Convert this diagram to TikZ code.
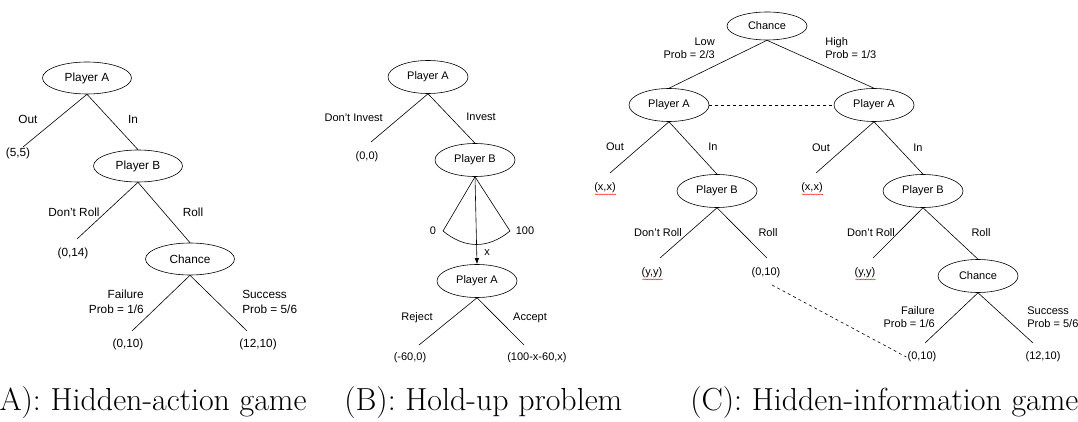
\documentclass[tikz,border=0pt]{standalone}
\usepackage{fontspec}
\newfontfamily\diagfont{Liberation Sans}
\usetikzlibrary{arrows.meta, shapes.geometric, decorations.pathmorphing}

\begin{document}
\begin{tikzpicture}[x=1pt, y=-1pt, line width=0.6pt, >={Latex[length=6pt, width=4.5pt]},
	every node/.style={font=\diagfont\fontsize{11}{13}\selectfont},
	player/.style={draw, ellipse, minimum width=80pt, minimum height=33pt, inner sep=0pt},
	move/.style={inner sep=0pt},
	payoff/.style={inner sep=1pt},
	squig/.style={red, line width=0.4pt, decorate, decoration={snake, amplitude=0.5pt, segment length=2.5pt}},
	caption/.style={font=\rmfamily\fontsize{31.9}{36}\selectfont, anchor=base west, inner sep=0pt}]
				\useasboundingbox (0,0) rectangle (1078,422);

				% (A) hidden action
				\begin{scope}[every node/.append style={font=\diagfont\fontsize{11.8}{15}\selectfont},
					player/.append style={minimum width=89pt, minimum height=32pt}]
				\node[player] (aA) at (87,78) {Player A};
				\node[player] (aB) at (138,166) {Player B};
				\node[player] (aC) at (190,259) {Chance};

				\coordinate (aOut) at (23,147);
				\coordinate (aNo) at (77,239);
				\coordinate (aFail) at (132,331);
				\coordinate (aSucc) at (247,331);

				\draw (aA.south) -- (aOut);
				\draw (aA.south) -- (aB.north);
				\draw (aB.south) -- (aNo);
				\draw (aB.south) -- (aC.north);
				\draw (aC.south) -- (aFail);
				\draw (aC.south) -- (aSucc);

				\node[move] (aOutL) at (28,119) {Out};
				\node[move] (aInL) at (133,119) {In};
				\node[move] (aNoL) at (74,212) {Don’t Roll};
				\node[move] (aRollL) at (193,212) {Roll};
				\node[move, anchor=east, align=right] (aFailL) at (144,302) {Failure\\Prob = 1/6};
				\node[move, anchor=west, align=left] (aSuccL) at (242,302) {Success\\Prob = 5/6};

				\node[payoff] (aP1) at (18,153) {(5,5)};
				\node[payoff] (aP2) at (73,253) {(0,14)};
				\node[payoff] (aP3) at (128,344) {(0,10)};
				\node[payoff] (aP4) at (258,344) {(12,10)};
				\end{scope}

				% (B) hold-up
				\node[player] (bA) at (428,77) {Player A};
				\node[player] (bB) at (475,160) {Player B};
				\node[player] (bA2) at (477,281) {Player A};

				\coordinate (bNo) at (371,142);
				\coordinate (bLo) at (443,231);
				\coordinate (bHi) at (510,231);
				\coordinate (bRej) at (419,345);
				\coordinate (bAcc) at (524,345);

				\draw (bA.south) -- (bNo);
				\draw (bA.south) -- (bB.north);
				\draw (bB.south) -- (bLo);
				\draw (bB.south) -- (bHi);
				\draw (bLo) .. controls (465,249) and (488,249) .. (bHi);
				\draw[->] (bB.south) -- (bA2.north);
				\draw (bA2.south) -- (bRej);
				\draw (bA2.south) -- (bAcc);

				\node[move, anchor=east] (bNoL) at (383,118) {Don’t Invest};
				\node[move] (bInL) at (481,117) {Invest};
				\node[move] (bLoL) at (433,231) {0};
				\node[move] (bHiL) at (525,231) {100};
				\node[move] (bxL) at (487,253) {x};
				\node[move] (bRejL) at (417,318) {Reject};
				\node[move] (bAccL) at (530,318) {Accept};

				\node[payoff] (bP1) at (367,157) {(0,0)};
				\node[payoff] (bP2) at (410,358) {(-60,0)};
				\node[payoff, anchor=west] (bP3) at (506,358) {(100-x-60,x)};

				% (C) hidden information
				\node[player, minimum height=28pt] (cC) at (767,26) {Chance};
				\node[player] (cA1) at (669,105) {Player A};
				\node[player] (cA2) at (874,105) {Player A};
				\node[player] (cB1) at (717,191) {Player B};
				\node[player] (cB2) at (923,191) {Player B};
				\node[player] (cCh) at (978,276) {Chance};

				\coordinate (cOut1) at (610,173);
				\coordinate (cOut2) at (816,173);
				\coordinate (cNo1) at (660,258);
				\coordinate (cRoll1) at (767,258);
				\coordinate (cNo2) at (873,258);
				\coordinate (cFail) at (925,343);
				\coordinate (cSucc) at (1033,343);

				\draw (cC.south) -- (cA1.north);
				\draw (cC.south) -- (cA2.north);
				\draw[dashed] (cA1.east) -- (cA2.west);
				\draw (cA1.south) -- (cOut1);
				\draw (cA1.south) -- (cB1.north);
				\draw (cA2.south) -- (cOut2);
				\draw (cA2.south) -- (cB2.north);
				\draw (cB1.south) -- (cNo1);
				\draw (cB1.south) -- (cRoll1);
				\draw (cB2.south) -- (cNo2);
				\draw (cB2.south) -- (cCh.north);
				\draw (cCh.south) -- (cFail);
				\draw (cCh.south) -- (cSucc);

				\node[move, anchor=east, align=right] (cLowL) at (715,48) {Low\\Prob = 2/3};
				\node[move, anchor=west, align=left] (cHighL) at (825,48) {High\\Prob = 1/3};
				\node[move] (cOutL1) at (615,147) {Out};
				\node[move] (cInL1) at (713,147) {In};
				\node[move] (cOutL2) at (821,148) {Out};
				\node[move] (cInL2) at (918,148) {In};
				\node[move] (cNoL1) at (658,233) {Don’t Roll};
				\node[move] (cRollL1) at (768,233) {Roll};
				\node[move] (cNoL2) at (871,233) {Don’t Roll};
				\node[move] (cRollL2) at (981,233) {Roll};
				\node[move, anchor=east, align=right] (cFailL) at (935,317) {Failure\\Prob = 1/6};
				\node[move, anchor=west, align=left] (cSuccL) at (1027,317) {Success\\Prob = 5/6};

				\node[payoff] (cP1) at (605,188) {(x,x)};
				\node[payoff] (cP2) at (812,188) {(x,x)};
				\node[payoff] (cP3) at (652,273) {(y,y)};
				\node[payoff] (cP4) at (766,273) {(0,10)};
				\node[payoff] (cP5) at (865,273) {(y,y)};
				\node[payoff] (cP6) at (922,357) {(0,10)};
				\node[payoff] (cP7) at (1043,357) {(12,10)};

				\draw[squig] ([xshift=2pt]cP1.south west) -- ([xshift=-1pt]cP1.south east);
				\draw[squig] ([xshift=2pt]cP2.south west) -- ([xshift=-1pt]cP2.south east);
				\draw[squig] ([xshift=2pt]cP3.south west) -- ([xshift=-1pt]cP3.south east);
				\draw[squig] ([xshift=2pt]cP5.south west) -- ([xshift=-1pt]cP5.south east);

				\draw[dashed] (cP4) ++(6,12) -- (cP6.west);

				% captions
				\node[caption] (capA) at (-12,410) {(A): Hidden-action game};
				\node[caption] (capB) at (344,410) {(B): Hold-up problem};
				\node[caption] (capC) at (690,410) {(C): Hidden-information game};
			\end{tikzpicture}
\end{document}
